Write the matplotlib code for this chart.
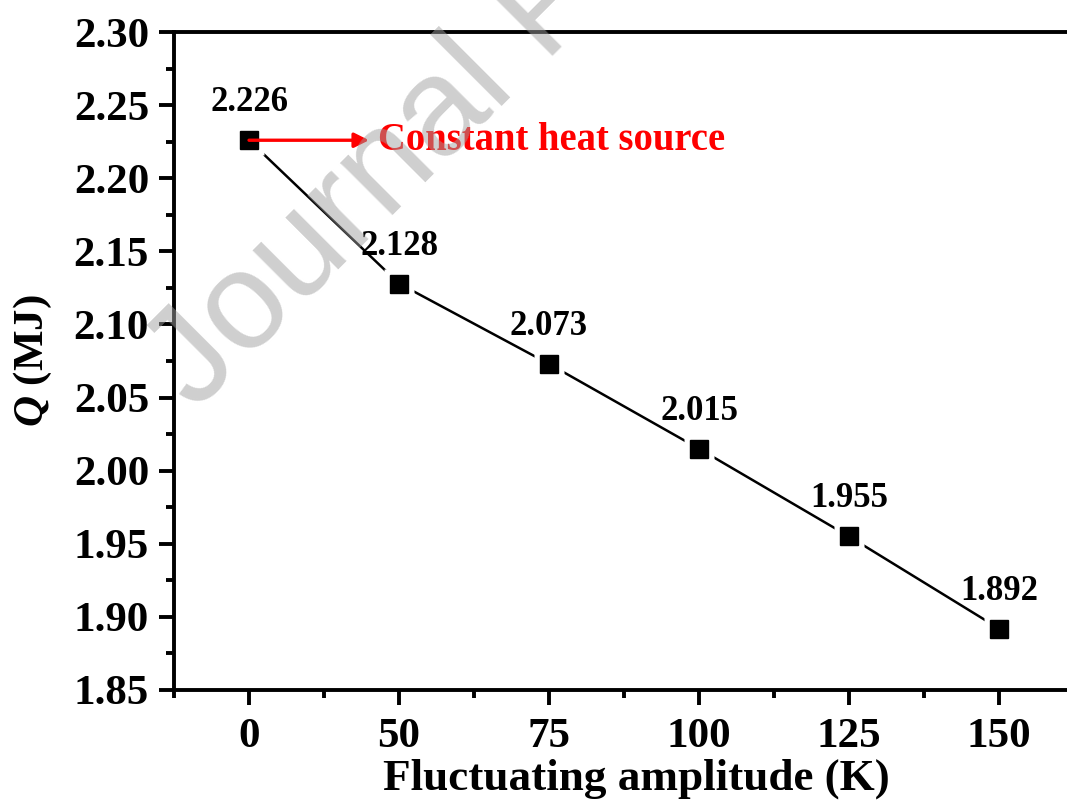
import matplotlib
matplotlib.use("Agg")
import matplotlib.pyplot as plt
from matplotlib.ticker import MultipleLocator, FixedLocator

# ---- data ----
categories = ["0", "50", "75", "100", "125", "150"]
q_values = [2.226, 2.128, 2.073, 2.015, 1.955, 1.892]
value_labels = ["2.226", "2.128", "2.073", "2.015", "1.955", "1.892"]
annotation_text = "Constant heat source"
x_label = "Fluctuating amplitude (K)"
y_label = r"$Q$ (MJ)"
watermark = "Journal Pre-proof"

plt.rcParams["font.family"] = ["Liberation Serif", "DejaVu Serif"]
plt.rcParams["font.weight"] = "bold"
plt.rcParams["mathtext.fontset"] = "custom"
plt.rcParams["mathtext.it"] = "Liberation Serif:bold:italic"
plt.rcParams["mathtext.rm"] = "Liberation Serif:bold"

fig = plt.figure(figsize=(10.67, 8.09), dpi=100)
ax = fig.add_axes([0.1631, 0.1471, 0.8435, 0.8133])

xpos = list(range(len(categories)))

ax.plot(xpos, q_values, color="black", lw=1.8, zorder=2)
ax.plot(xpos, q_values, ls="none", marker="s", ms=22, mfc="white", mec="none", zorder=3)
ax.plot(xpos, q_values, ls="none", marker="s", ms=13, mfc="black", mec="black", zorder=4)

for xi, yi, lab in zip(xpos, q_values, value_labels):
    ax.annotate(lab, (xi, yi), xytext=(0, 27), textcoords="offset points",
                ha="center", va="center", fontsize=25, fontweight="bold", zorder=5)

ax.annotate("", xy=(0.80, q_values[0]), xytext=(0, q_values[0]),
            arrowprops=dict(arrowstyle="-|>", color="red", lw=2.4, mutation_scale=22,
                            shrinkA=0, shrinkB=0), zorder=6)
ax.text(0.86, q_values[0], annotation_text, color="red", fontsize=27.8,
        fontweight="bold", ha="left", va="center", zorder=6)

ax.set_xlim(-0.5, 5.5)
ax.set_ylim(1.85, 2.30)
ax.xaxis.set_major_locator(FixedLocator(xpos))
ax.set_xticklabels(categories)
ax.xaxis.set_minor_locator(FixedLocator([p - 0.5 for p in xpos] + [5.5]))
ax.yaxis.set_major_locator(MultipleLocator(0.05))
ax.yaxis.set_minor_locator(MultipleLocator(0.025))
ax.yaxis.set_major_formatter(matplotlib.ticker.FormatStrFormatter("%.2f"))

for s in ax.spines.values():
    s.set_linewidth(2.8)
ax.tick_params(which="major", direction="out", length=11, width=2.8, labelsize=31, pad=7)
ax.tick_params(which="minor", direction="out", length=6, width=2.8)
ax.tick_params(axis="x", which="major", pad=9)
for lab in ax.get_xticklabels() + ax.get_yticklabels():
    lab.set_fontweight("bold")

ax.set_xlabel(x_label, fontsize=32.5, fontweight="bold", labelpad=2)
ax.xaxis.label.set_x(0.514)
ax.set_ylabel(y_label, fontsize=31, fontweight="bold", labelpad=14)

fig.text(195 / 1067, 1 - 412 / 809, watermark, rotation=45, rotation_mode="anchor",
         ha="left", va="baseline", fontsize=100, color="#a0a0a0", alpha=0.5,
         family=["Liberation Sans", "DejaVu Sans"], fontweight="normal", zorder=10)

fig.savefig("out.png", dpi=100)
